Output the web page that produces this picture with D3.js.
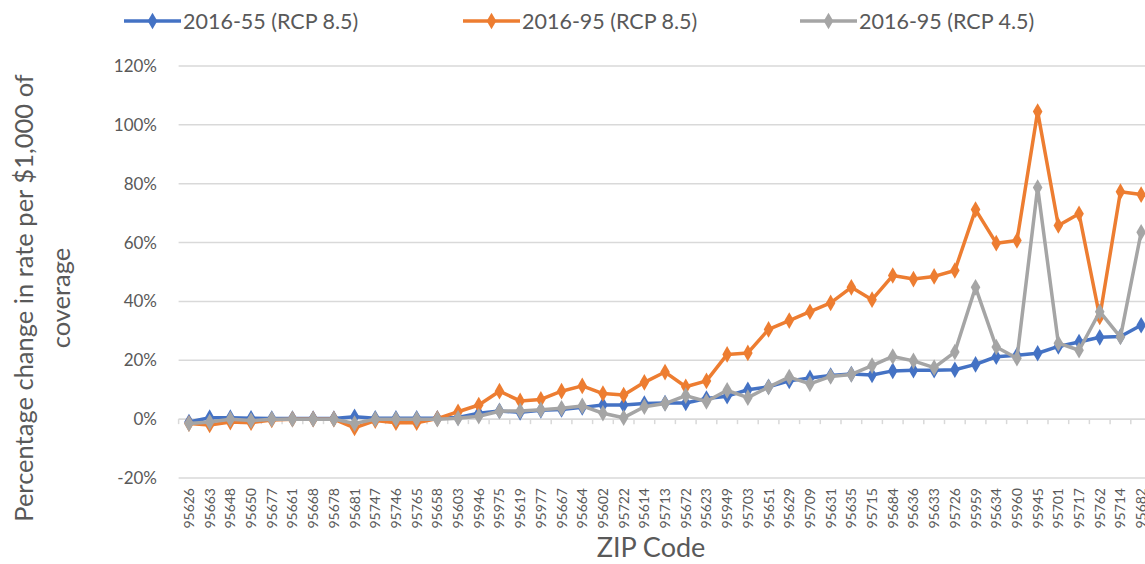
<!DOCTYPE html>
<html>
<head>
<meta charset="utf-8">
<script src="https://cdn.jsdelivr.net/npm/d3@7"></script>
<style>
  html, body { margin: 0; padding: 0; background: #fff; overflow: hidden; }
  svg { display: block; font-family: Lato, "Open Sans", sans-serif; }
</style>
</head>
<body>
<svg id="chart" width="1145" height="564"></svg>
<script>
// ZIP codes, ordered by the 2016-55 change
const zipCodes = ["95626","95663","95648","95650","95677","95661","95668","95678","95681","95747",
  "95746","95765","95658","95603","95946","95975","95619","95977","95667","95664",
  "95602","95722","95614","95713","95672","95623","95949","95703","95651","95629",
  "95709","95631","95635","95715","95684","95636","95633","95726","95959","95634",
  "95960","95945","95701","95717","95762","95714","95682"];

// Percentage change in rate per $1,000 of coverage
const rcp85To2055 = [-1.0,0.5,0.5,0.3,0.2,0.2,0.2,0.2,0.8,0.3,
  0.3,0.3,0.3,0.6,2.0,2.8,2.3,3.0,3.3,4.0,
  4.8,4.8,5.3,5.5,5.5,7.0,7.8,10.0,11.0,13.0,
  14.0,14.8,15.3,15.0,16.4,16.6,16.6,16.8,18.6,21.2,
  21.7,22.4,24.7,26.2,27.8,28.1,31.9];
const rcp85To2095 = [-1.5,-2.0,-1.0,-1.2,-0.3,0.0,0.0,0.0,-3.0,-0.5,
  -1.2,-1.2,0.2,2.5,4.8,9.5,6.2,6.7,9.5,11.3,
  8.7,8.2,12.5,16.0,11.0,13.0,22.0,22.5,30.5,33.5,
  36.5,39.5,44.8,40.6,48.8,47.6,48.5,50.5,71.2,59.8,
  60.7,104.5,65.8,69.8,34.7,77.3,76.3];
const rcp45To2095 = [-1.5,-1.0,0.0,-0.5,0.0,0.0,0.0,0.0,-1.5,0.0,
  0.0,0.0,0.0,0.3,1.0,2.7,2.8,3.2,3.7,4.5,
  2.0,0.5,4.2,5.3,8.0,6.0,9.8,7.3,10.9,14.3,
  12.0,14.5,15.2,18.2,21.3,19.8,17.5,22.8,44.8,24.5,
  20.7,78.7,25.8,23.4,36.5,27.9,63.5];

const seriesNames = ["2016-55 (RCP 8.5)", "2016-95 (RCP 8.5)", "2016-95 (RCP 4.5)"];
const yTicks = [-20, 0, 20, 40, 60, 80, 100, 120];

const series = [
  { name: seriesNames[0], values: rcp85To2055, color: "#4472C4" },
  { name: seriesNames[1], values: rcp85To2095, color: "#ED7D31" },
  { name: seriesNames[2], values: rcp45To2095, color: "#A5A5A5" }
];

const svg = d3.select("#chart");
const textColor = "#595959";
const gridColor = "#d9d9d9";

const x = d3.scaleBand().domain(zipCodes).range([178.6, 1151.5]).padding(0);
const y = d3.scaleLinear().domain([-20, 120]).range([478, 66]);
const cx = d => x(d) + x.bandwidth() / 2;

// horizontal gridlines
svg.append("g")
  .selectAll("line")
  .data(yTicks)
  .join("line")
  .attr("x1", x.range()[0]).attr("x2", x.range()[1])
  .attr("y1", d => y(d)).attr("y2", d => y(d))
  .attr("stroke", gridColor).attr("stroke-width", 1.5);

// y axis labels
svg.append("g")
  .selectAll("text")
  .data(yTicks)
  .join("text")
  .attr("x", 157).attr("y", d => y(d))
  .attr("dy", "0.35em")
  .attr("text-anchor", "end")
  .attr("fill", textColor)
  .attr("font-size", 17)
  .text(d => d + "%");

// category axis on the zero line, ticks between categories
const xAxis = svg.append("g")
  .attr("transform", `translate(0,${y(0)})`);
xAxis.append("line")
  .attr("x1", x.range()[0]).attr("x2", x.range()[1])
  .attr("stroke", gridColor).attr("stroke-width", 1.5);
xAxis.selectAll("line.tick")
  .data(zipCodes.concat([null]))
  .join("line")
  .attr("class", "tick")
  .attr("x1", (d, i) => x.range()[0] + i * x.step())
  .attr("x2", (d, i) => x.range()[0] + i * x.step())
  .attr("y1", 0).attr("y2", 5)
  .attr("stroke", gridColor).attr("stroke-width", 1.5);

// rotated ZIP labels below the plot
svg.append("g")
  .selectAll("text")
  .data(zipCodes)
  .join("text")
  .attr("transform", d => `translate(${cx(d) + 5},488) rotate(-90)`)
  .attr("text-anchor", "end")
  .attr("fill", textColor)
  .attr("font-size", 14)
  .text(d => d);

// lines and diamond markers
const line = d3.line()
  .x((d, i) => cx(zipCodes[i]))
  .y(d => y(d));
const diamond = d3.symbol().type(d3.symbolDiamond).size(80);

series.forEach(s => {
  const g = svg.append("g");
  g.append("path")
    .datum(s.values)
    .attr("d", line)
    .attr("fill", "none")
    .attr("stroke", s.color)
    .attr("stroke-width", 3.5)
    .attr("stroke-linejoin", "round");
  g.selectAll("path.m")
    .data(s.values)
    .join("path")
    .attr("class", "m")
    .attr("d", diamond)
    .attr("transform", (d, i) => `translate(${cx(zipCodes[i])},${y(d)})`)
    .attr("fill", s.color);
});

// legend
const legendX = [124, 463, 800];
series.forEach((s, i) => {
  const g = svg.append("g").attr("transform", `translate(${legendX[i]},21)`);
  g.append("line").attr("x1", 0).attr("x2", 57)
    .attr("stroke", s.color).attr("stroke-width", 3.5);
  g.append("path").attr("d", diamond).attr("transform", "translate(28.5,0)").attr("fill", s.color);
  g.append("text").attr("x", 59).attr("dy", "0.35em")
    .attr("fill", textColor).attr("font-size", 21.5)
    .text(s.name);
});

// axis titles
svg.append("text")
  .attr("transform", "translate(33,298) rotate(-90)")
  .attr("text-anchor", "middle")
  .attr("fill", textColor).attr("font-size", 25.5)
  .text("Percentage change in rate per $1,000 of");
svg.append("text")
  .attr("transform", "translate(70,298) rotate(-90)")
  .attr("text-anchor", "middle")
  .attr("fill", textColor).attr("font-size", 25.5)
  .text("coverage");
svg.append("text")
  .attr("x", 651).attr("y", 557)
  .attr("text-anchor", "middle")
  .attr("fill", textColor).attr("font-size", 27)
  .text("ZIP Code");
</script>
</body>
</html>
